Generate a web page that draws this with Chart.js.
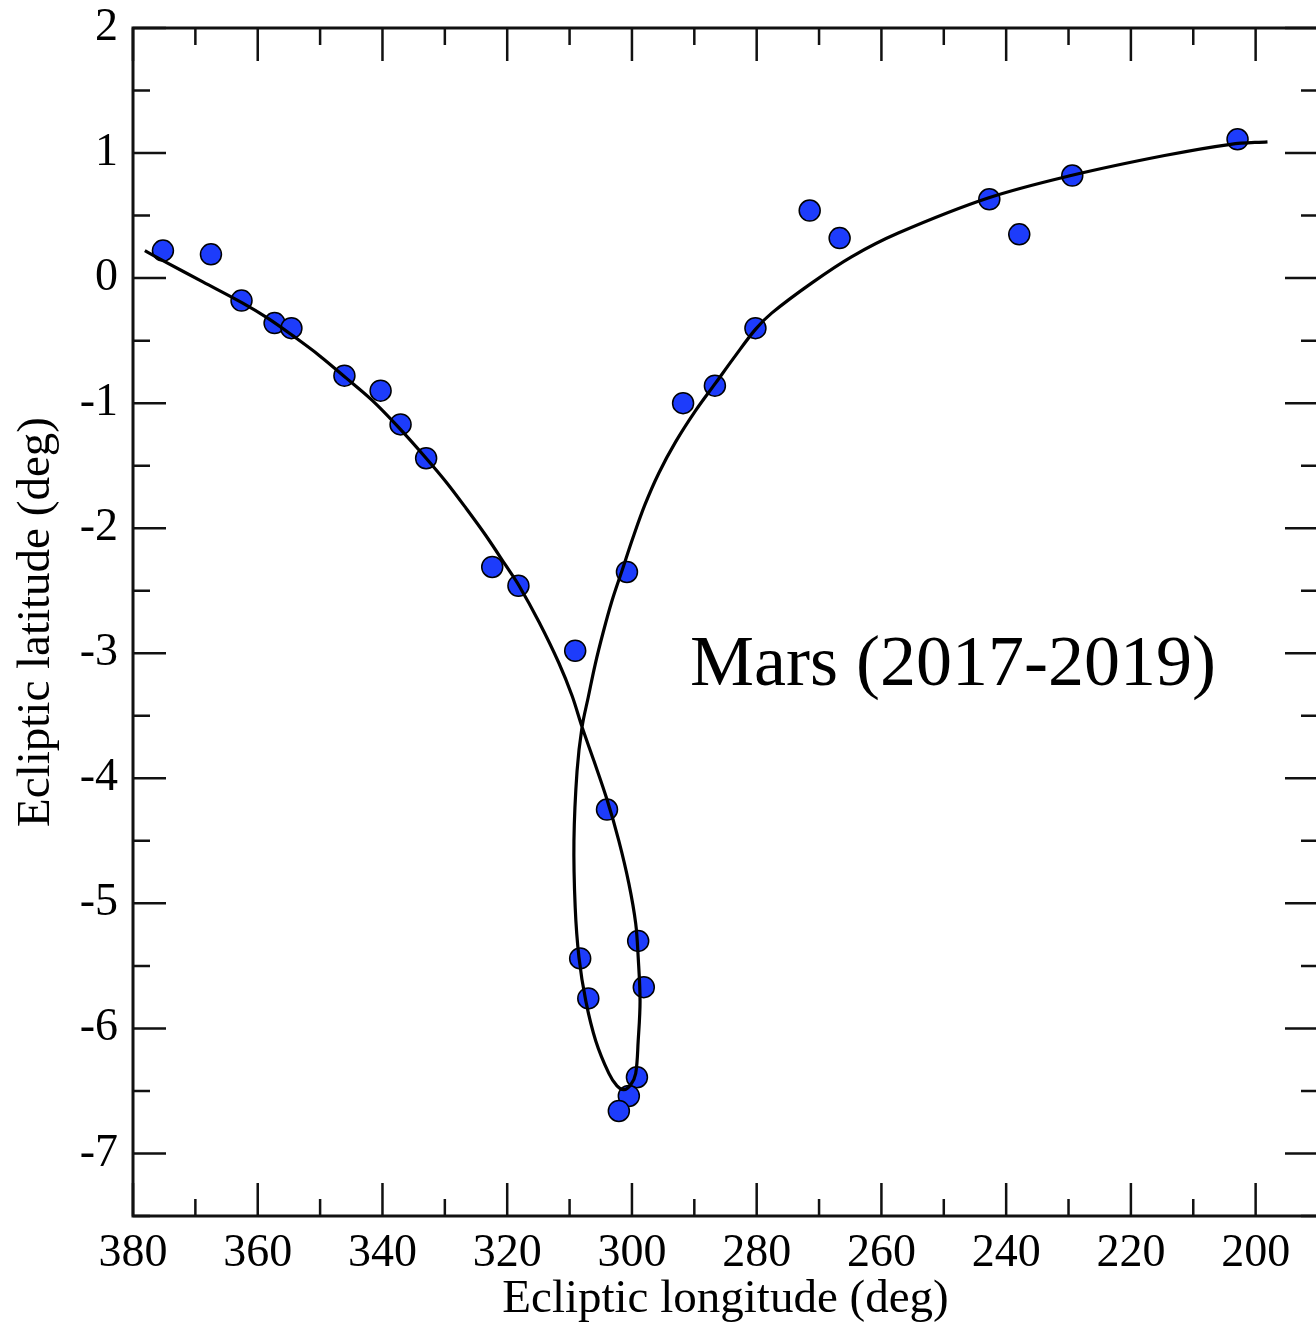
<!DOCTYPE html>
<html>
<head>
<meta charset="utf-8">
<script src="https://cdn.jsdelivr.net/npm/chart.js@4.4.1/dist/chart.umd.min.js"></script>
<style>
  html, body { margin: 0; padding: 0; background: #fff; overflow: hidden; }
  canvas { display: block; }
</style>
</head>
<body>
<canvas id="chart" width="1330" height="1328"></canvas>
<script>
// Observed positions of Mars (deg)
const obsLon = [375.2, 367.5, 362.6, 357.3, 354.6, 346.1, 340.3, 337.1, 333.0, 322.4,
                318.2, 309.1, 304.0, 308.3, 307.0, 299.0, 298.1, 299.2, 300.5, 302.1,
                300.8, 291.8, 286.7, 280.2, 271.5, 266.7, 242.7, 237.9, 229.4, 202.9];
const obsLat = [0.22, 0.19, -0.18, -0.36, -0.40, -0.78, -0.90, -1.17, -1.44, -2.31,
                -2.46, -2.98, -4.25, -5.44, -5.76, -5.30, -5.67, -6.39, -6.54, -6.66,
                -2.35, -1.00, -0.86, -0.40, 0.54, 0.32, 0.63, 0.35, 0.82, 1.11];

// Model path (right end -> loop -> left end)
const pathLon = [198.1, 204.0, 214.6, 229.6, 242.9, 257.3, 264.8, 271.2, 277.6, 280.2,
                 283.4, 286.6, 289.8, 293.0, 295.7, 297.9, 299.8, 301.6, 303.2, 304.6,
                 305.9, 307.0, 308.0, 308.8, 309.3, 309.1, 308.5, 307.4, 305.8, 303.7,
                 302.4, 301.3, 300.2, 299.4, 299.0, 298.7, 299.0, 299.4, 300.5, 302.1,
                 304.0, 306.1, 308.0, 309.6, 311.7, 314.9, 318.1, 320.2, 323.4, 326.6,
                 329.8, 333.0, 337.3, 341.6, 345.8, 350.1, 354.4, 358.4, 362.4, 368.8,
                 375.2, 378.1];
const pathLat = [1.09, 1.07, 0.98, 0.82, 0.64, 0.36, 0.17, -0.04, -0.28, -0.41,
                 -0.62, -0.84, -1.06, -1.31, -1.56, -1.81, -2.07, -2.34, -2.58, -2.83,
                 -3.09, -3.35, -3.59, -3.94, -4.50, -5.03, -5.43, -5.78, -6.10, -6.36,
                 -6.46, -6.49, -6.45, -6.36, -6.10, -5.78, -5.43, -5.16, -4.84, -4.50,
                 -4.17, -3.86, -3.59, -3.34, -3.08, -2.75, -2.46, -2.30, -2.06, -1.84,
                 -1.63, -1.44, -1.20, -0.98, -0.80, -0.62, -0.46, -0.32, -0.20, -0.03,
                 0.14, 0.22];

// Axes
const lonMin = 190, lonMax = 380, lonStep = 10, lonLabelEvery = 20;
const latMin = -7.5, latMax = 2, latStep = 0.5;

const labelText = 'Mars (2017-2019)';
const labelLon = 290.7;
const labelLat = -3.25;

const SERIF = '"Liberation Serif", "Times New Roman", serif';
Chart.defaults.font.family = SERIF;
Chart.defaults.color = '#000';

// inward ticks on all four sides + frame + the label
const frameTicks = {
  id: 'frameTicks',
  afterDraw(chart) {
    const { ctx, chartArea: a, scales: { x, y } } = chart;
    ctx.save();
    ctx.strokeStyle = '#111';
    ctx.lineWidth = 2.5;
    ctx.beginPath();
    x.ticks.forEach(t => {
      const px = x.getPixelForValue(t.value);
      const len = t.value % lonLabelEvery === 0 ? 33 : 17;
      ctx.moveTo(px, a.bottom); ctx.lineTo(px, a.bottom - len);
      ctx.moveTo(px, a.top); ctx.lineTo(px, a.top + len);
    });
    y.ticks.forEach(t => {
      const py = y.getPixelForValue(t.value);
      const len = Number.isInteger(t.value) ? 33 : 17;
      ctx.moveTo(a.left, py); ctx.lineTo(a.left + len, py);
      ctx.moveTo(a.right, py); ctx.lineTo(a.right - len, py);
    });
    ctx.stroke();
    ctx.lineWidth = 3;
    ctx.strokeRect(a.left, a.top, a.right - a.left, a.bottom - a.top);

    ctx.fillStyle = '#000';
    ctx.font = '72px ' + SERIF;
    ctx.textBaseline = 'alphabetic';
    ctx.textAlign = 'left';
    ctx.fillText(labelText, x.getPixelForValue(labelLon), y.getPixelForValue(labelLat));
    ctx.restore();
  }
};

new Chart(document.getElementById('chart'), {
  type: 'scatter',
  data: {
    datasets: [
      {
        label: 'path',
        data: pathLon.map((v, i) => ({ x: v, y: pathLat[i] })),
        showLine: true,
        borderColor: '#000',
        borderWidth: 3.2,
        pointRadius: 0,
        tension: 0.35,
        fill: false
      },
      {
        label: 'observed',
        data: obsLon.map((v, i) => ({ x: v, y: obsLat[i] })),
        pointRadius: 10.5,
        pointBackgroundColor: '#1d3cfb',
        pointBorderColor: '#000',
        pointBorderWidth: 1.5
      }
    ]
  },
  options: {
    responsive: false,
    animation: false,
    devicePixelRatio: 1,
    layout: { padding: { top: 28, right: 10, left: 0, bottom: 0 } },
    plugins: { legend: { display: false }, tooltip: { enabled: false } },
    scales: {
      x: {
        type: 'linear',
        reverse: true,
        min: lonMin,
        max: lonMax,
        grid: { display: false, drawTicks: false },
        border: { display: false },
        ticks: {
          stepSize: lonStep,
          padding: 10,
          maxRotation: 0,
          autoSkip: false,
          font: { size: 46 },
          callback: v => (v % lonLabelEvery === 0 ? String(v) : '')
        },
        title: {
          display: true,
          text: 'Ecliptic longitude (deg)',
          font: { size: 47 },
          padding: { top: 0, bottom: 0 }
        },
        afterFit: s => { s.height = 112; s.paddingLeft = 0; s.paddingRight = 0; }
      },
      y: {
        type: 'linear',
        min: latMin,
        max: latMax,
        grid: { display: false, drawTicks: false },
        border: { display: false },
        ticks: {
          stepSize: latStep,
          padding: 15,
          autoSkip: false,
          font: { size: 46 },
          callback: v => (Number.isInteger(v) ? String(v) : '')
        },
        title: {
          display: true,
          text: 'Ecliptic latitude (deg)',
          font: { size: 47 },
          padding: { top: 8, bottom: 0 }
        },
        afterFit: s => { s.width = 133; s.paddingTop = 0; s.paddingBottom = 0; }
      }
    }
  },
  plugins: [frameTicks]
});
</script>
</body>
</html>
